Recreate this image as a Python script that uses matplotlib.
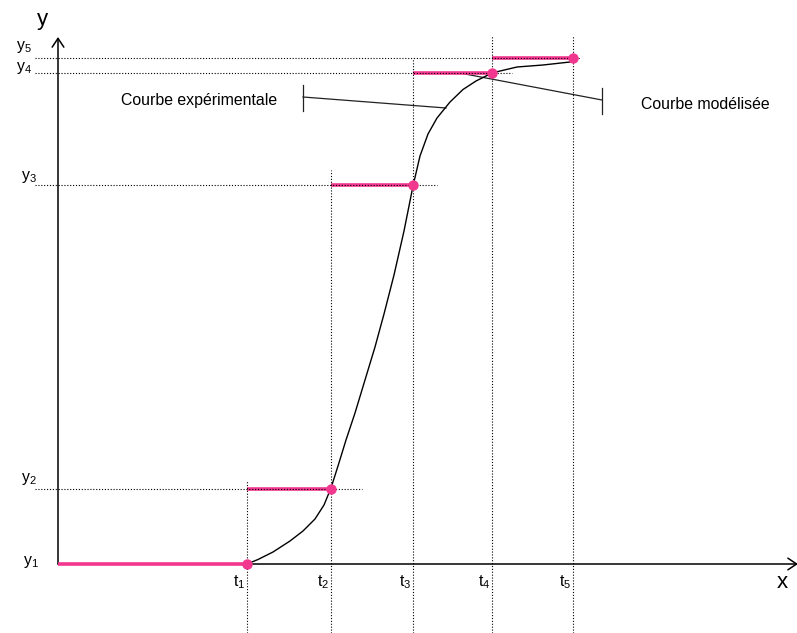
import matplotlib
matplotlib.use("Agg")
import matplotlib.pyplot as plt
from matplotlib.patches import FancyArrowPatch

plt.rcParams['font.family'] = ['Liberation Sans', 'DejaVu Sans']
plt.rcParams['mathtext.default'] = 'regular'

# sampling instants and measured levels (schematic units)
t_vals = [1.89, 2.73, 3.55, 4.34, 5.15]
y_vals = [0.00, 0.75, 3.79, 4.91, 5.06]
t_labels = ['$t_1$', '$t_2$', '$t_3$', '$t_4$', '$t_5$']
y_labels = ['$y_1$', '$y_2$', '$y_3$', '$y_4$', '$y_5$']

curve_x = [1.89, 2.00, 2.15, 2.32, 2.45, 2.57, 2.66, 2.73, 2.80, 2.88, 2.97, 3.07,
           3.17, 3.26, 3.36, 3.46, 3.55, 3.62, 3.70, 3.79, 3.92, 4.05, 4.18, 4.29,
           4.40, 4.59, 4.85, 5.12]
curve_y = [0.00, 0.045, 0.12, 0.23, 0.33, 0.45, 0.59, 0.76, 0.98, 1.24, 1.51, 1.84,
           2.17, 2.50, 2.89, 3.33, 3.78, 4.08, 4.30, 4.46, 4.62, 4.745, 4.83, 4.885,
           4.925, 4.97, 4.99, 5.02]

# guide line extents
h_guide_end = [3.04, 3.79, 4.54, 5.22]   # for y2..y5
v_guide_top = [0.84, 3.94, 5.06, 5.29, 5.29]

pink = '#f2378f'
dotted = (0, (1, 1.6))

fig = plt.figure(figsize=(7.97, 6.33), dpi=100)
ax = fig.add_axes([0, 0, 1, 1])
ax.set_xlim(-0.58, 7.39)
ax.set_ylim(-0.69, 5.64)
ax.axis('off')

# axes with arrows
ax.add_patch(FancyArrowPatch((0, 0), (0, 5.27), arrowstyle='->,head_length=0.45,head_width=0.3',
                             mutation_scale=14, lw=1.1, color='black', shrinkA=0, shrinkB=0))
ax.add_patch(FancyArrowPatch((0, 0), (7.40, 0), arrowstyle='->,head_length=0.45,head_width=0.3',
                             mutation_scale=14, lw=1.1, color='black', shrinkA=0, shrinkB=0))

# staircase (model) in pink
prev = 0.0
for t, y in zip(t_vals, y_vals):
    ax.plot([prev, t], [y, y], color=pink, lw=2.6, solid_capstyle='butt', zorder=3)
    prev = t

# dotted guides
for y, xe in zip(y_vals[1:], h_guide_end):
    ax.plot([-0.23, xe], [y, y], color='black', lw=0.8, ls=dotted, zorder=4)
for t, yt in zip(t_vals, v_guide_top):
    ax.plot([t, t], [-0.69, yt], color='black', lw=0.8, ls=dotted, zorder=4)

# experimental curve
ax.plot(curve_x, curve_y, color='black', lw=1.0, zorder=5, solid_joinstyle='round')

# sample points
ax.plot(t_vals, y_vals, 'o', color=pink, ms=7.5, mec='none', zorder=6)

# tick labels
for t, lab in zip(t_vals, t_labels):
    ax.text(t - 0.015, -0.18, lab, ha='right', va='center', fontsize=11.4)
ylab_x = [-0.27, -0.29, -0.29, -0.34, -0.34]
ylab_y = [0.02, 0.85, 3.87, 4.96, 5.17]
for xl, yl, lab in zip(ylab_x, ylab_y, y_labels):
    ax.text(xl, yl, lab, ha='center', va='center', fontsize=11.4)

ax.text(-0.16, 5.44, 'y', ha='center', va='center', fontsize=16)
ax.text(7.24, -0.19, 'x', ha='center', va='center', fontsize=16)

# annotations
ax.text(1.41, 4.63, 'Courbe expérimentale', ha='center', va='center', fontsize=11.4)
ax.plot([2.45, 2.45], [4.53, 4.79], color='#222222', lw=0.9)
ax.plot([2.45, 3.88], [4.67, 4.56], color='#222222', lw=0.9)

ax.text(6.47, 4.60, 'Courbe modélisée', ha='center', va='center', fontsize=11.4)
ax.plot([5.44, 5.44], [4.50, 4.76], color='#222222', lw=0.9)
ax.plot([4.07, 5.44], [4.90, 4.64], color='#222222', lw=0.9)

fig.savefig('out.png', dpi=100)
